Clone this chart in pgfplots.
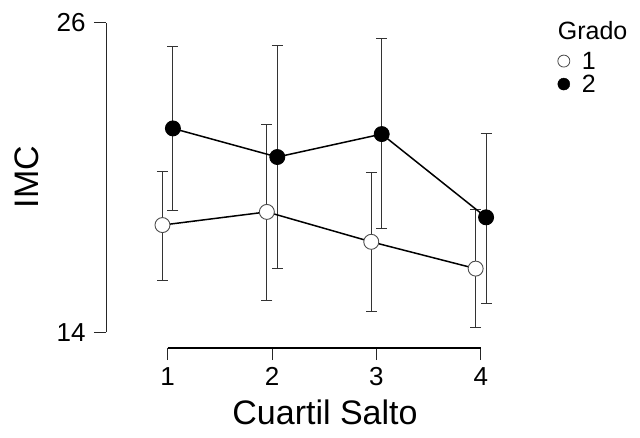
\documentclass[border=0pt]{standalone}
\usepackage{pgfplots}
\pgfplotsset{compat=1.18}
\usepackage{fontspec}
\setmainfont{Liberation Sans}
\begin{document}
\begin{tikzpicture}[x=1pt,y=1pt]
\useasboundingbox (0,0) rectangle (640,437);
\begin{axis}[
  at={(106pt,89pt)}, anchor=south west,
  scale only axis, width=390pt, height=325pt,
  xmin=0.409, xmax=4.145, ymin=13.39, ymax=26,
  clip=false,
  axis lines=left, axis line style={draw=none},
  xtick={1,2,3,4}, ytick={14,26},
  tick align=outside, major tick length=12pt,
  tick style={line width=1pt, black!85},
  /pgf/number format/assume math mode=true,
  tick label style={font=\fontsize{26}{28}\selectfont},
  yticklabel style={xshift=-5pt},
  xticklabel style={yshift=-4pt},
  legend style={draw=none, fill=none, at={(1.158,0.985)}, anchor=north west,
    font=\fontsize{25}{27}\selectfont, row sep=2pt, inner sep=0pt,
    nodes={inner sep=0pt, text height=18pt, text depth=3pt}},
  legend image code/.code={\path[draw=none] (0pt,0pt) -- (24pt,0pt);\draw[#1] plot coordinates {(6pt,0.5pt)};},
  legend cell align=left,
]
% error bars
\addplot[forget plot, draw=none, mark=none,
  error bars/.cd, y dir=both, y explicit,
  error bar style={line width=1pt, black!80},
  error mark options={rotate=90, mark size=5.5pt, line width=1pt, black!80}]
  table[x=x, y=y, y error plus=ep, y error minus=em] {
x y ep em
0.95 18.16 2.09 2.14
1.95 18.67 3.38 3.45
2.95 17.51 2.69 2.72
3.95 16.47 2.29 2.29
};
\addplot[forget plot, draw=none, mark=none,
  error bars/.cd, y dir=both, y explicit,
  error bar style={line width=1pt, black!80},
  error mark options={rotate=90, mark size=5.5pt, line width=1pt, black!80}]
  table[x=x, y=y, y error plus=ep, y error minus=em] {
x y ep em
1.05 21.91 3.17 3.20
2.05 20.80 4.33 4.33
3.05 21.69 3.69 3.66
4.05 18.46 3.26 3.36
};
% lines with markers
\addplot[forget plot, line width=1.5pt, black, mark=*, mark size=7.5pt,
  mark options={fill=white, draw=black!70, line width=0.9pt}]
  table[x=x, y=y] {
x y
0.95 18.16
1.95 18.67
2.95 17.51
3.95 16.47
};
\addplot[forget plot, line width=1.5pt, black, mark=*, mark size=7.5pt,
  mark options={fill=black, draw=black, line width=0.9pt}]
  table[x=x, y=y] {
x y
1.05 21.91
2.05 20.80
3.05 21.69
4.05 18.46
};
% axis lines
\draw[line width=1pt, black!85] (axis cs:0.409,14) -- (axis cs:0.409,26);
\draw[line width=1.4pt, black] (axis cs:1,13.39) -- (axis cs:4,13.39);
% legend
\addlegendimage{empty legend}
\addlegendentry{\hspace{-24pt}\raisebox{7pt}{Grado}}
\addlegendimage{only marks, mark=*, mark size=6pt, mark options={fill=white, draw=black!70, line width=0.8pt}}
\addlegendentry{1}
\addlegendimage{only marks, mark=*, mark size=6pt, mark options={fill=black, draw=black}}
\addlegendentry{2}
\end{axis}
\node[font=\fontsize{34}{36}\selectfont] at (325,25) {Cuartil Salto};
\node[font=\fontsize{34}{36}\selectfont, rotate=90] at (27,260) {IMC};
\end{tikzpicture}
\end{document}
